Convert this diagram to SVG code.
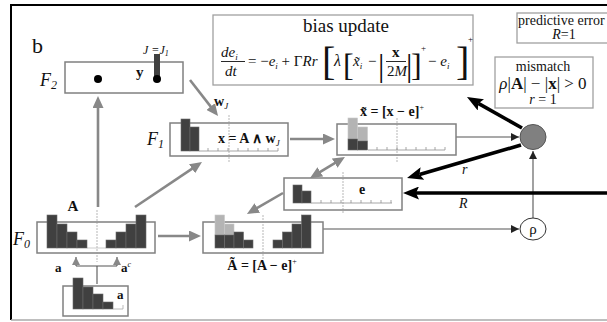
<svg xmlns="http://www.w3.org/2000/svg" width="607" height="322" viewBox="0 0 607 322">
<defs>
<style>
text{font-family:"Liberation Serif","Times New Roman",serif;fill:#111}
.box{fill:#fff;stroke:#808080;stroke-width:1.5}
.lbox{fill:#fff;stroke:#a0a0a0;stroke-width:1.3}
.bar{fill:#404040;stroke:#6a6a6a;stroke-width:0.6}
.lbar{fill:#b4b4b4;stroke:#c8c8c8;stroke-width:0.6}
.dot{stroke:#9a9a9a;stroke-width:0.7;stroke-dasharray:2 1;fill:none}
.axis{stroke:#909090;stroke-width:0.8;fill:none}
.garr{stroke:#888;stroke-width:2.6;fill:none}
.barr{stroke:#000;stroke-width:3.6;fill:none}
.tarr{stroke:#555;stroke-width:1.1;fill:none}
.it{font-style:italic}
.b{font-weight:bold}
</style>
<marker id="mg" markerUnits="userSpaceOnUse" markerWidth="13" markerHeight="11" refX="2" refY="5.5" orient="auto-start-reverse"><path d="M0,0 L12,5.5 L0,11 z" fill="#888"/></marker>
<marker id="mb" markerUnits="userSpaceOnUse" markerWidth="17" markerHeight="13" refX="3" refY="6.5" orient="auto"><path d="M0,0 L16,6.5 L0,13 L3,6.5 z" fill="#000"/></marker>
<marker id="mt" markerUnits="userSpaceOnUse" markerWidth="9" markerHeight="8" refX="8" refY="4" orient="auto"><path d="M0,0 L8,4 L0,8 z" fill="#222"/></marker>
<marker id="mtg" markerUnits="userSpaceOnUse" markerWidth="9" markerHeight="8" refX="8" refY="4" orient="auto"><path d="M0,0 L8,4 L0,8 z" fill="#888"/></marker>
</defs>
<rect width="607" height="322" fill="#fff"/>
<path d="M11,320 L11,5 L607,5" fill="none" stroke="#000" stroke-width="2"/>
<line x1="11" y1="320" x2="607" y2="320" stroke="#aaa" stroke-width="1.5"/>
<text x="32" y="53" font-size="22">b</text>

<g id="bias-update">
<rect class="lbox" x="213" y="15" width="260" height="70"/>
<text x="346" y="32" font-size="19" text-anchor="middle">bias update</text>
<text x="221" y="57" font-size="15" class="it">de<tspan font-size="9" dy="3">i</tspan></text>
<line x1="221" y1="61.5" x2="245" y2="61.5" stroke="#111" stroke-width="0.9"/>
<text x="225" y="76" font-size="15" class="it">dt</text>
<text x="248" y="66" font-size="15">= −<tspan class="it">e</tspan><tspan font-size="9" dy="3" class="it">i</tspan><tspan dy="-3"> + Γ</tspan><tspan class="it">Rr</tspan></text>
<text x="322" y="75" font-size="40" font-weight="300">[</text>
<text x="334" y="66" font-size="16" class="it">λ</text>
<text x="343" y="76" font-size="32">[</text>
<text x="353" y="66" font-size="15" class="it">x̃<tspan font-size="9" dy="3">i</tspan></text>
<text x="368" y="66" font-size="15">−</text>
<text x="378" y="76" font-size="32">|</text>
<text x="392" y="57" font-size="15" class="b">x</text>
<line x1="386" y1="61.5" x2="406" y2="61.5" stroke="#111" stroke-width="0.9"/>
<text x="387" y="76" font-size="15">2<tspan class="it">M</tspan></text>
<text x="406" y="76" font-size="32">|</text>
<text x="411" y="76" font-size="32">]</text>
<text x="421" y="51" font-size="9">+</text>
<text x="428" y="66" font-size="15">− <tspan class="it">e</tspan><tspan font-size="9" dy="3" class="it">i</tspan></text>
<text x="456" y="75" font-size="40">]</text>
<text x="468" y="42" font-size="9">+</text>
</g>

<g id="predictive-error">
<rect class="lbox" x="517" y="13" width="100" height="30"/>
<text x="518" y="25" font-size="14">predictive error</text>
<text x="564" y="39" font-size="14" text-anchor="middle"><tspan class="it">R</tspan>=1</text>
</g>

<g id="mismatch">
<rect class="lbox" x="495" y="57" width="98" height="51"/>
<text x="543" y="71" font-size="14" text-anchor="middle">mismatch</text>
<text x="543" y="89" font-size="17" text-anchor="middle"><tspan class="it">ρ</tspan>|<tspan class="b">A</tspan>| − |<tspan class="b">x</tspan>| &gt; 0</text>
<text x="543" y="104" font-size="14" text-anchor="middle"><tspan class="it">r</tspan> = 1</text>
</g>

<g id="connectors">
<line class="garr" x1="98" y1="207" x2="98" y2="106" marker-end="url(#mg)"/>
<line class="garr" x1="190" y1="80" x2="211.9" y2="108.1" marker-end="url(#mg)"/>
<line class="garr" x1="135" y1="207" x2="193.7" y2="167.6" marker-end="url(#mg)"/>
<line class="garr" x1="290" y1="139" x2="325" y2="139" marker-end="url(#mg)"/>
<line class="garr" x1="158" y1="236" x2="191" y2="236" marker-end="url(#mg)"/>
<line class="garr" x1="283" y1="193" x2="255.6" y2="208.9" marker-end="url(#mg)"/>
<line class="garr" x1="336.4" y1="162.1" x2="318.6" y2="172.9" marker-start="url(#mg)" marker-end="url(#mg)"/>
<line class="tarr" x1="456" y1="137" x2="519" y2="137" marker-end="url(#mt)"/>
<line class="tarr" x1="323" y1="229" x2="519" y2="229" marker-end="url(#mt)"/>
<line class="tarr" x1="533" y1="218" x2="533" y2="151" marker-end="url(#mt)"/>
<line class="barr" x1="522" y1="128" x2="478.3" y2="103.4" marker-end="url(#mb)"/>
<line class="barr" x1="521" y1="145" x2="419.5" y2="174.4" marker-end="url(#mb)"/>
<line class="barr" x1="610" y1="193" x2="416" y2="193" marker-end="url(#mb)"/>
<path class="tarr" d="M97,284 L97,266 M76,266 L117,266" stroke="#888"/>
<line class="tarr" x1="76" y1="266" x2="76" y2="257" stroke="#888" marker-end="url(#mtg)"/>
<line class="tarr" x1="117" y1="266" x2="117" y2="257" stroke="#888" marker-end="url(#mtg)"/>
<text x="462" y="174" font-size="14" class="it">r</text>
<text x="459" y="208" font-size="14" class="it">R</text>
</g>

<g id="mismatch-node">
<ellipse cx="533" cy="137" rx="13" ry="12.5" fill="#808080" stroke="#555" stroke-width="1"/>
</g>
<g id="rho-node">
<ellipse cx="533" cy="229" rx="13" ry="11" fill="#fff" stroke="#333" stroke-width="1"/>
<text x="533" y="234" font-size="15" text-anchor="middle">ρ</text>
</g>

<g id="F2">
<rect class="box" x="65" y="62" width="118" height="31"/>
<text x="40" y="86" font-size="18" class="it">F<tspan font-size="12" dy="3">2</tspan></text>
<circle cx="98" cy="79" r="4" fill="#000"/>
<rect x="154" y="54" width="6" height="25" fill="#404040"/>
<circle cx="157" cy="79" r="4" fill="#000"/>
<text x="136" y="77" font-size="15" class="b">y</text>
<text x="143" y="54" font-size="12" class="it">J =J<tspan font-size="8" dy="2">1</tspan></text>
<text x="214" y="106" font-size="14" class="b">w<tspan font-size="9" dy="3" class="it" font-weight="normal">J</tspan></text>
</g>

<g id="F1">
<rect class="box" x="170" y="123" width="118" height="33"/>
<line class="dot" x1="229" y1="115" x2="229" y2="162"/>
<rect class="bar" x="181" y="119" width="9" height="32"/>
<rect class="bar" x="190" y="127" width="9" height="24"/>
<path class="axis" d="M199,151 L278,151 M208,151 v-3 M218,151 v-3 M228,151 v-3 M238,151 v-3 M248,151 v-3 M258,151 v-3 M268,151 v-3 M278,151 v-3"/>
<text x="147" y="145" font-size="18" class="it">F<tspan font-size="12" dy="3">1</tspan></text>
<text x="218" y="143" font-size="14" class="b">x = A ∧ w<tspan font-size="9" dy="3" class="it" font-weight="normal">J</tspan></text>
</g>

<g id="X-tilde">
<rect class="box" x="337" y="124" width="119" height="31"/>
<line class="dot" x1="397" y1="118" x2="397" y2="162"/>
<rect class="lbar" x="348" y="118" width="9.5" height="21"/>
<rect class="lbar" x="357.5" y="127" width="10" height="14"/>
<rect class="bar" x="348" y="139" width="9.5" height="11"/>
<rect class="bar" x="357.5" y="141" width="10" height="9"/>
<path class="axis" d="M368,150 L445,150 M377,150 v-3 M387,150 v-3 M397,150 v-3 M406,150 v-3 M416,150 v-3 M426,150 v-3 M435,150 v-3 M445,150 v-3"/>
<text x="392" y="116" font-size="14" class="b" text-anchor="middle">x̃ = [x − e]<tspan font-size="8" dy="-6" font-weight="normal">+</tspan></text>
</g>

<g id="E">
<rect class="box" x="284" y="178" width="118" height="32"/>
<line class="dot" x1="343" y1="172" x2="343" y2="214"/>
<rect class="bar" x="293" y="185" width="9" height="18"/>
<rect class="bar" x="302" y="191" width="9" height="12"/>
<path class="axis" d="M311,203 L392,203 M321,203 v-3 M331,203 v-3 M341,203 v-3 M351,203 v-3 M361,203 v-3 M371,203 v-3 M381,203 v-3 M391,203 v-3"/>
<text x="362" y="194" font-size="14" class="b" text-anchor="middle">e</text>
</g>

<g id="A-tilde">
<rect class="box" x="203" y="222" width="120" height="31"/>
<line class="dot" x1="263" y1="215" x2="263" y2="259"/>
<rect class="lbar" x="215" y="215" width="9.5" height="20"/>
<rect class="lbar" x="224.5" y="224" width="9.5" height="11"/>
<rect class="bar" x="215" y="235" width="9.5" height="13"/>
<rect class="bar" x="224.5" y="235" width="9.5" height="13"/>
<rect class="bar" x="234" y="232" width="9.5" height="16"/>
<rect class="bar" x="243.5" y="240" width="9.5" height="8"/>
<rect class="bar" x="273" y="240" width="9.5" height="8"/>
<rect class="bar" x="282.5" y="232" width="9.5" height="16"/>
<rect class="bar" x="292" y="224" width="9.5" height="24"/>
<rect class="bar" x="301.5" y="215" width="9.5" height="33"/>
<text x="262" y="270" font-size="14" class="b" text-anchor="middle">Ã = [A − e]<tspan font-size="8" dy="-6" font-weight="normal">+</tspan></text>
</g>

<g id="F0">
<rect class="box" x="37" y="222" width="118" height="31"/>
<line class="dot" x1="97" y1="210" x2="97" y2="262"/>
<line x1="87" y1="248" x2="106" y2="248" stroke="#c0c0c0" stroke-width="0.8"/>
<rect class="bar" x="47" y="215" width="10" height="33"/>
<rect class="bar" x="57" y="224" width="10" height="24"/>
<rect class="bar" x="67" y="232" width="10" height="16"/>
<rect class="bar" x="77" y="240" width="10" height="8"/>
<rect class="bar" x="106" y="240" width="10" height="8"/>
<rect class="bar" x="116" y="232" width="10" height="16"/>
<rect class="bar" x="126" y="224" width="10" height="24"/>
<rect class="bar" x="136" y="215" width="10" height="33"/>
<text x="13" y="245" font-size="18" class="it">F<tspan font-size="12" dy="3">0</tspan></text>
<text x="73" y="211" font-size="15" class="b" text-anchor="middle">A</text>
<text x="55" y="272" font-size="13" class="b">a</text>
<text x="121" y="272" font-size="13" class="b">a<tspan font-size="8" dy="-5" class="it" font-weight="normal">c</tspan></text>
</g>

<g id="input">
<rect class="box" x="63" y="286" width="65" height="30"/>
<rect class="bar" x="73" y="278" width="10" height="31"/>
<rect class="bar" x="83" y="287" width="10" height="22"/>
<rect class="bar" x="93" y="294" width="10" height="15"/>
<rect class="bar" x="103" y="302" width="10" height="7"/>
<path d="M113,309 L123,309 L123,305" stroke="#aaa" stroke-width="0.8" fill="none"/>
<text x="117" y="299" font-size="13" class="b">a</text>
</g>
</svg>
